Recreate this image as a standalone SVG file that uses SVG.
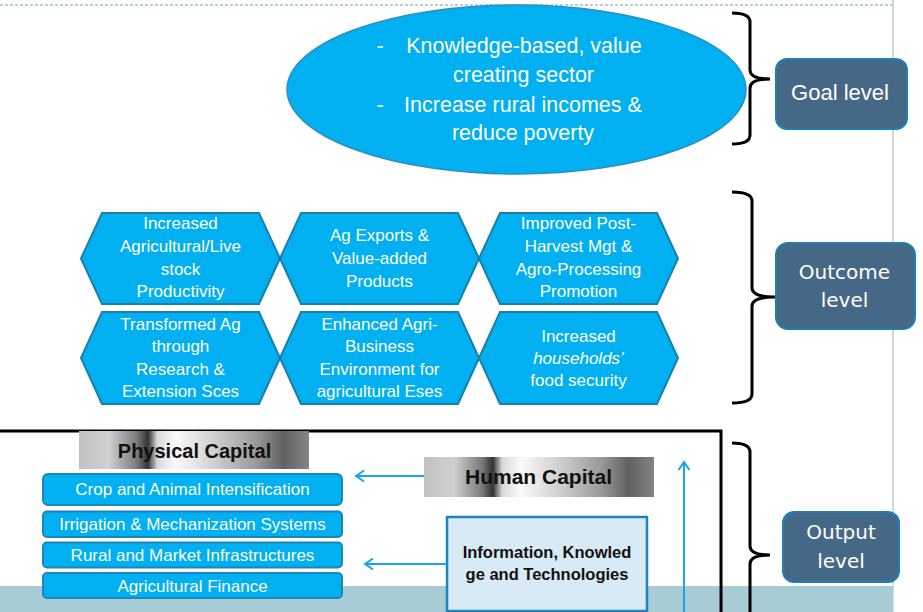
<svg xmlns="http://www.w3.org/2000/svg" width="923" height="612" viewBox="0 0 923 612">
<style>
.hex{fill:#00b0f0;stroke:#1a7fae;stroke-width:2}
.ht{font-family:"Liberation Sans",Arial,sans-serif;font-size:17px;fill:#ffffff;text-anchor:middle}
.bar{fill:#00b0f0;stroke:#1c86ba;stroke-width:2}
.bt{font-family:"Liberation Sans",Arial,sans-serif;font-size:17px;fill:#ffffff;text-anchor:middle}
.lvl{fill:#466887;stroke:#1d7fb2;stroke-width:2}
.lt{font-family:"DejaVu Sans",sans-serif;font-size:20px;fill:#ffffff;text-anchor:middle}
.brace{fill:none;stroke:#000000;stroke-width:3}
.conn{fill:none;stroke:#1aa6e6;stroke-width:2}
.cap{font-family:"Liberation Sans",Arial,sans-serif;font-weight:bold;fill:#111111;text-anchor:middle}
.et{font-family:"Liberation Sans",Arial,sans-serif;font-size:21.5px;fill:#ffffff;text-anchor:middle}
</style>
<defs>
<linearGradient id="metal" x1="0" y1="0" x2="1" y2="0">
<stop offset="0" stop-color="#c2c2c2"/>
<stop offset="0.13" stop-color="#cfcfcf"/>
<stop offset="0.25" stop-color="#7c7c7c"/>
<stop offset="0.3" stop-color="#333333"/>
<stop offset="0.34" stop-color="#d8d8d8"/>
<stop offset="0.42" stop-color="#fafafa"/>
<stop offset="0.6" stop-color="#cccccc"/>
<stop offset="0.77" stop-color="#999999"/>
<stop offset="0.89" stop-color="#616161"/>
<stop offset="1" stop-color="#858585"/>
</linearGradient>
<marker id="arr" markerUnits="userSpaceOnUse" markerWidth="14" markerHeight="14" refX="11" refY="7" orient="auto">
<path d="M3,1.5 L11,7 L3,12.5" fill="none" stroke="#1aa6e6" stroke-width="2"/>
</marker>
</defs>

<!-- background frame -->
<rect x="0" y="586" width="893" height="26" fill="#a8ccd5"/>
<line x1="0" y1="5" x2="893" y2="5" stroke="#9dbfcc" stroke-width="1.5" stroke-dasharray="3,2"/>
<line x1="893" y1="0" x2="893" y2="612" stroke="#b4ced8" stroke-width="1.5"/>

<!-- goal -->
<g id="goal">
<ellipse cx="516.5" cy="89.5" rx="229.5" ry="84.5" fill="#00b0f0" stroke="#2a8fc4" stroke-width="1.5"/>
<text class="et" x="380" y="53">-</text>
<text class="et" x="524" y="53">Knowledge-based, value</text>
<text class="et" x="523.5" y="82">creating sector</text>
<text class="et" x="380" y="112">-</text>
<text class="et" x="523" y="112">Increase rural incomes &amp;</text>
<text class="et" x="523" y="140">reduce poverty</text>
</g>

<!-- outcome hexagons -->
<g id="hex1">
<polygon class="hex" points="81,258.5 102,213 259,213 280,258.5 259,304 102,304"/>
<text class="ht" x="180.5" y="229">Increased</text>
<text class="ht" x="180.5" y="252">Agricultural/Live</text>
<text class="ht" x="180.5" y="275">stock</text>
<text class="ht" x="180.5" y="297">Productivity</text>
</g>
<g id="hex2">
<polygon class="hex" points="280,258.5 301,213 458,213 479,258.5 458,304 301,304"/>
<text class="ht" x="379.5" y="241">Ag Exports &amp;</text>
<text class="ht" x="379.5" y="264">Value-added</text>
<text class="ht" x="379.5" y="287">Products</text>
</g>
<g id="hex3">
<polygon class="hex" points="479,258.5 500,213 657,213 678,258.5 657,304 500,304"/>
<text class="ht" x="578.5" y="229">Improved Post-</text>
<text class="ht" x="578.5" y="252">Harvest Mgt &amp;</text>
<text class="ht" x="578.5" y="275">Agro-Processing</text>
<text class="ht" x="578.5" y="297">Promotion</text>
</g>
<g id="hex4">
<polygon class="hex" points="81,358 102,312 259,312 280,358 259,404 102,404"/>
<text class="ht" x="180.5" y="330">Transformed Ag</text>
<text class="ht" x="180.5" y="352">through</text>
<text class="ht" x="180.5" y="375">Research &amp;</text>
<text class="ht" x="180.5" y="397">Extension Sces</text>
</g>
<g id="hex5">
<polygon class="hex" points="280,358 301,312 458,312 479,358 458,404 301,404"/>
<text class="ht" x="379.5" y="330">Enhanced Agri-</text>
<text class="ht" x="379.5" y="352">Business</text>
<text class="ht" x="379.5" y="375">Environment for</text>
<text class="ht" x="379.5" y="397">agricultural Eses</text>
</g>
<g id="hex6">
<polygon class="hex" points="479,358 500,312 657,312 678,358 657,404 500,404"/>
<text class="ht" x="578.5" y="342">Increased</text>
<text class="ht" x="578.5" y="364" font-style="italic">households’</text>
<text class="ht" x="578.5" y="386">food security</text>
</g>

<!-- output frame -->
<path d="M-2,431 H721 V614" fill="none" stroke="#000000" stroke-width="3"/>

<g id="physical-capital">
<rect x="79" y="431" width="230" height="38" fill="url(#metal)"/>
<text class="cap" x="194.5" y="458" font-size="20">Physical Capital</text>
</g>
<g id="bar-crop">
<rect class="bar" x="43" y="474" width="299" height="31" rx="5"/>
<text class="bt" x="192.5" y="495">Crop and Animal Intensification</text>
</g>
<g id="bar-irrigation">
<rect class="bar" x="43" y="511.5" width="299" height="25.5" rx="4"/>
<text class="bt" x="192.5" y="530">Irrigation &amp; Mechanization Systems</text>
</g>
<g id="bar-rural">
<rect class="bar" x="43" y="542.5" width="299" height="25" rx="4"/>
<text class="bt" x="192.5" y="561">Rural and Market Infrastructures</text>
</g>
<g id="bar-finance">
<rect class="bar" x="43" y="573" width="299" height="25" rx="4"/>
<text class="bt" x="192.5" y="592">Agricultural Finance</text>
</g>

<g id="human-capital">
<rect x="424" y="457" width="230" height="40" fill="url(#metal)"/>
<text class="cap" x="538.5" y="484" font-size="21">Human Capital</text>
</g>

<g id="information">
<rect x="447" y="517" width="200" height="94" fill="#d9eaf7" stroke="#1d84bd" stroke-width="2.5"/>
<text class="cap" x="547" y="558" font-size="16.5">Information, Knowled</text>
<text class="cap" x="547" y="580" font-size="16.5">ge and Technologies</text>
</g>

<!-- connectors -->
<g id="connectors">
<line class="conn" x1="424" y1="476" x2="356" y2="476" marker-end="url(#arr)"/>
<line class="conn" x1="447" y1="564" x2="365" y2="564" marker-end="url(#arr)"/>
<line class="conn" x1="684" y1="613" x2="684" y2="462" marker-end="url(#arr)"/>
</g>

<!-- level braces and labels -->
<g id="braces">
<path class="brace" d="M732,13 Q750,13 750,22 L750,70 Q750,79 770,79 Q750,79 750,88 L750,135 Q750,144 732,144"/>
<path class="brace" d="M732,192 Q752,192 752,201 L752,288 Q752,297 775,297 Q752,297 752,306 L752,394 Q752,403 732,403"/>
<path class="brace" d="M732,443 Q750,443 750,452 L750,546 Q750,555 770,555 Q750,555 750,564 L750,615"/>
</g>
<g id="goal-level">
<rect class="lvl" x="776" y="59" width="131" height="70" rx="11"/>
<text x="840" y="100" font-family="Liberation Sans, Arial, sans-serif" font-size="22" fill="#ffffff" text-anchor="middle">Goal level</text>
</g>
<g id="outcome-level">
<rect class="lvl" x="776" y="243" width="139" height="86" rx="12"/>
<text class="lt" x="844.5" y="279">Outcome</text>
<text class="lt" x="844.5" y="307">level</text>
</g>
<g id="output-level">
<rect class="lvl" x="783" y="512" width="116" height="70" rx="11"/>
<text class="lt" x="841" y="539">Output</text>
<text class="lt" x="841" y="568">level</text>
</g>
</svg>
